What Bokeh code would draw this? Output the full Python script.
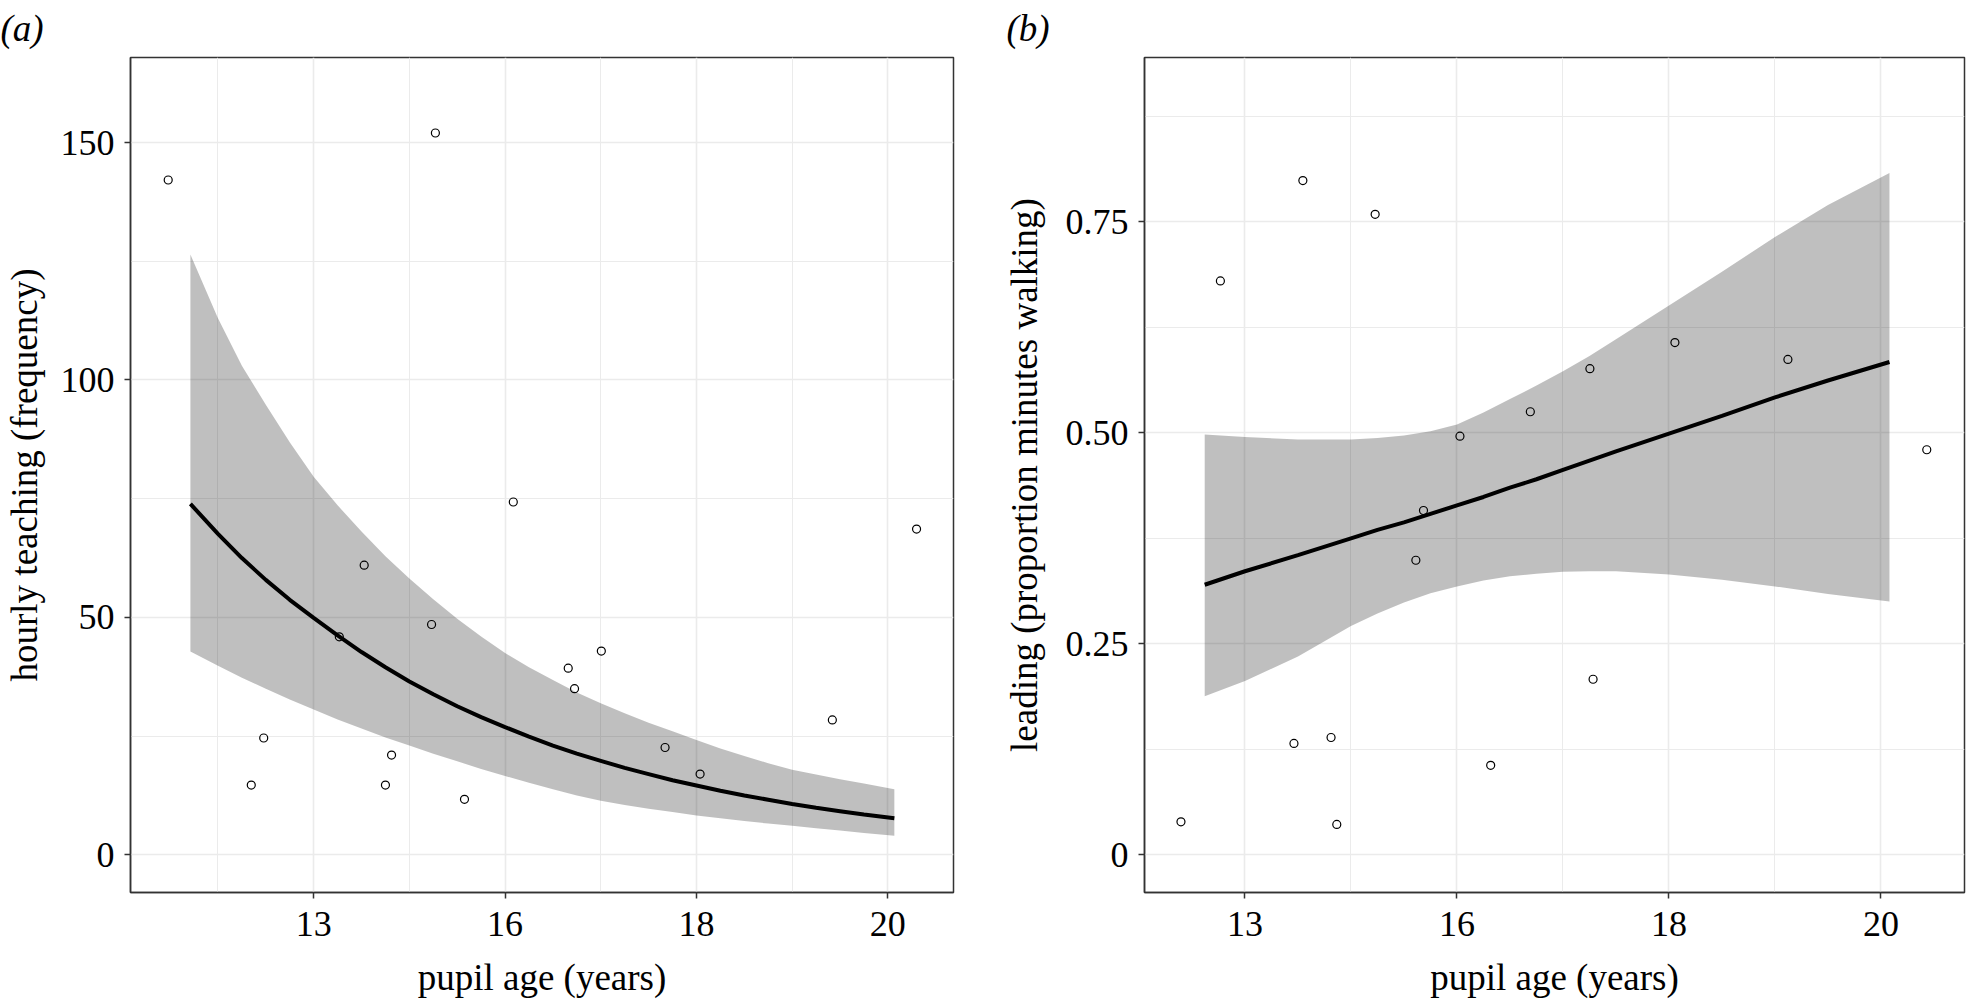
from bokeh.plotting import figure
from bokeh.models import FixedTicker, Range1d
from bokeh.layouts import row
from bokeh.embed import file_html
from bokeh.resources import INLINE

# ---------------- data: panel (a) ----------------
# x positions are standardised pupil age; tick labels give the age in years
age_std_a = [-1.760, -0.364, 0.043, 2.150, -0.736, -0.384, -0.866, 0.503, 0.330,
             0.363, 1.710, -1.261, 0.836, -0.593, 1.019, -1.326, -0.625, -0.212]
teach_a = [142.1, 152.0, 74.3, 68.6, 61.0, 48.5, 45.9, 42.9, 39.3,
           35.0, 28.4, 24.6, 22.6, 21.0, 17.0, 14.7, 14.7, 11.7]

curve_x_a = [-1.644, -1.5, -1.375, -1.25, -1.125, -1.0, -0.875, -0.75, -0.625, -0.5,
             -0.375, -0.25, -0.125, 0.0, 0.125, 0.25, 0.375, 0.5, 0.625, 0.75,
             0.875, 1.0, 1.125, 1.25, 1.375, 1.5, 1.625, 1.75, 1.875, 2.034]
fit_a = [73.9, 67.6, 62.5, 57.9, 53.7, 49.9, 46.2, 42.7, 39.5, 36.5,
         33.8, 31.3, 29.0, 26.9, 24.9, 23.0, 21.3, 19.8, 18.3, 17.0,
         15.7, 14.6, 13.5, 12.5, 11.6, 10.7, 9.9, 9.2, 8.5, 7.7]
upper_a = [126.4, 113.0, 103.0, 94.8, 86.9, 79.6, 73.6, 68.1, 62.9, 58.2,
           53.8, 49.7, 46.0, 42.5, 39.5, 36.8, 34.2, 31.9, 29.8, 27.8,
           26.0, 24.2, 22.4, 20.8, 19.3, 17.9, 16.9, 15.9, 15.0, 13.8]
lower_a = [42.8, 39.8, 37.3, 35.0, 32.7, 30.6, 28.5, 26.6, 24.7, 23.0,
           21.3, 19.7, 18.1, 16.6, 15.2, 13.8, 12.5, 11.4, 10.5, 9.7,
           9.0, 8.3, 7.7, 7.1, 6.6, 6.1, 5.6, 5.1, 4.6, 4.0]

# ---------------- data: panel (b) ----------------
age_std_b = [-1.116, -0.727, -0.386, 1.028, 1.561, 0.627, 0.346, 0.014, 2.216,
             -0.158, -0.194, 0.642, -0.594, -0.769, 0.159, -1.302, -0.567]
lead_b = [0.680, 0.799, 0.759, 0.607, 0.587, 0.576, 0.525, 0.496, 0.480,
          0.408, 0.349, 0.208, 0.139, 0.132, 0.106, 0.039, 0.036]

curve_x_b = [-1.19, -1.0, -0.75, -0.5, -0.375, -0.25, -0.125, 0.0, 0.125, 0.25,
             0.375, 0.5, 0.625, 0.75, 1.0, 1.25, 1.5, 1.75, 2.04]
fit_b = [0.320, 0.336, 0.355, 0.375, 0.385, 0.394, 0.404, 0.414, 0.424, 0.435,
         0.445, 0.456, 0.467, 0.478, 0.499, 0.520, 0.542, 0.562, 0.584]
upper_b = [0.498, 0.495, 0.492, 0.492, 0.494, 0.497, 0.502, 0.510, 0.524, 0.540,
           0.556, 0.573, 0.591, 0.611, 0.651, 0.691, 0.732, 0.770, 0.808]
lower_b = [0.188, 0.206, 0.235, 0.271, 0.286, 0.299, 0.310, 0.318, 0.325, 0.330,
           0.333, 0.3355, 0.336, 0.336, 0.332, 0.326, 0.318, 0.309, 0.300]

# ---------------- ticks ----------------
x_ticks = [-1, 0, 1, 2]
x_tick_labels = ["13", "16", "18", "20"]
x_minor = [-2.5, -1.5, -0.5, 0.5, 1.5, 2.5]

y_ticks_a = [0, 50, 100, 150]
y_tick_labels_a = ["0", "50", "100", "150"]
y_minor_a = [25, 75, 125]

y_ticks_b = [0, 0.25, 0.5, 0.75]
y_tick_labels_b = ["0", "0.25", "0.50", "0.75"]
y_minor_b = [0.125, 0.375, 0.625, 0.875]

FONT = "Liberation Serif"
GRID = "#ebebeb"
EDGE = "#333333"


def make_panel(width, left, right, xr, yr, xlabel, ylabel, yticks, ylabels, yminor,
               ax_standoff, tag, tag_offset):
    p = figure(width=width, height=1000, output_backend="svg", toolbar_location=None,
               x_range=Range1d(*xr), y_range=Range1d(*yr),
               min_border_left=left, min_border_right=right,
               min_border_top=57, min_border_bottom=107)
    p.background_fill_color = "white"
    p.border_fill_color = "white"
    p.outline_line_color = EDGE
    p.outline_line_width = 1.5

    p.title.text = tag
    p.title.align = "left"
    p.title.offset = tag_offset
    p.title.standoff = 14
    p.title.vertical_align = "top"
    p.title.text_font = FONT
    p.title.text_font_size = "37px"
    p.title.text_font_style = "italic"
    p.title.text_color = "black"

    p.xaxis.ticker = FixedTicker(ticks=x_ticks, minor_ticks=x_minor)
    p.xaxis.major_label_overrides = {t: l for t, l in zip(x_ticks, x_tick_labels)}
    p.yaxis.ticker = FixedTicker(ticks=yticks, minor_ticks=yminor)
    p.yaxis.major_label_overrides = {t: l for t, l in zip(yticks, ylabels)}

    for ax in (p.xaxis[0], p.yaxis[0]):
        ax.axis_line_color = EDGE
        ax.axis_line_width = 1.5
        ax.major_tick_line_color = EDGE
        ax.major_tick_line_width = 1.5
        ax.major_tick_out = 6
        ax.major_tick_in = 0
        ax.minor_tick_line_color = None
        ax.minor_tick_out = 0
        ax.major_label_text_font = FONT
        ax.major_label_text_font_size = "36px"
        ax.major_label_text_color = "black"
        ax.major_label_standoff = 10
        ax.axis_label_text_font = FONT
        ax.axis_label_text_font_size = "37px"
        ax.axis_label_text_font_style = "normal"
        ax.axis_label_text_color = "black"
    p.xaxis.axis_label = xlabel
    p.yaxis.axis_label = ylabel
    p.xaxis.major_label_standoff = 13
    p.xaxis.axis_label_standoff = 18
    p.yaxis.axis_label_standoff = ax_standoff

    for g in (p.xgrid[0], p.ygrid[0]):
        g.grid_line_color = GRID
        g.grid_line_width = 1.6
        g.minor_grid_line_color = GRID
        g.minor_grid_line_width = 1.0
    return p


# panel (a)
pa = make_panel(990, 129, 37, (-1.957, 2.343), (-7.93, 167.9),
                "pupil age (years)", "hourly teaching (frequency)",
                y_ticks_a, y_tick_labels_a, y_minor_a, 13, "(a)", -130)
pa.varea(x=curve_x_a, y1=lower_a, y2=upper_a, fill_color="black", fill_alpha=0.25)
pa.line(x=curve_x_a, y=fit_a, line_color="black", line_width=4)
pa.scatter(x=age_std_a, y=teach_a, marker="circle", size=8, fill_color=None,
           line_color="black", line_width=1.2)

# panel (b)
pb = make_panel(982, 154, 8, (-1.474, 2.394), (-0.0447, 0.9448),
                "pupil age (years)", "leading (proportion minutes walking)",
                y_ticks_b, y_tick_labels_b, y_minor_b, 18, "(b)", -138)
pb.varea(x=curve_x_b, y1=lower_b, y2=upper_b, fill_color="black", fill_alpha=0.25)
pb.line(x=curve_x_b, y=fit_b, line_color="black", line_width=4)
pb.scatter(x=age_std_b, y=lead_b, marker="circle", size=8, fill_color=None,
           line_color="black", line_width=1.2)

layout = row(pa, pb)
open("out.html", "w").write(file_html(layout, INLINE))
